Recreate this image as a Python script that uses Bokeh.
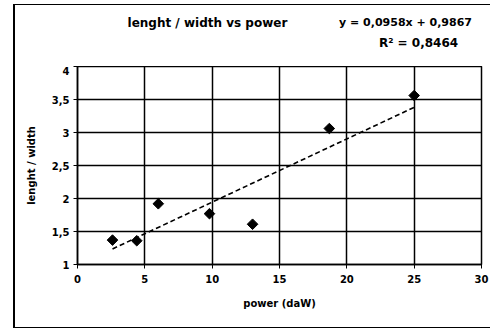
import math
from bokeh.plotting import figure
from bokeh.layouts import column
from bokeh.models import Label, CustomJSTickFormatter, FixedTicker, Range1d
from bokeh.embed import file_html
from bokeh.resources import INLINE

# data
power = [2.6, 4.4, 6.0, 9.8, 13.0, 18.7, 25.0]
ratio = [1.37, 1.36, 1.92, 1.77, 1.61, 3.06, 3.56]
slope = 0.0958
intercept = 0.9867
title_text = "lenght / width vs  power"
eq_text = "y = 0,0958x + 0,9867"
r2_text = "R² = 0,8464"
x_ticks = [0, 5, 10, 15, 20, 25, 30]
y_ticks = [1, 1.5, 2, 2.5, 3, 3.5, 4]

FONT = "DejaVu Sans"
W = 476

# header strip holding the title and the trendline equation
head = figure(width=W, height=61, output_backend="svg", toolbar_location=None,
              x_range=Range1d(0, 1), y_range=Range1d(0, 1),
              x_axis_location=None, y_axis_location=None,
              min_border=0, min_border_left=0, min_border_right=0,
              min_border_top=0, min_border_bottom=0)
head.outline_line_color = None
head.grid.visible = False
head.background_fill_color = "white"
head.border_fill_color = "white"

def hlabel(x, y, t, size):
    head.add_layout(Label(x=x, y=y, x_units="screen", y_units="screen", text=t,
                          text_font=FONT, text_font_style="bold", text_font_size=size,
                          text_align="center", text_baseline="middle", text_color="black"))

hlabel(132, 44, title_text, "12px")
hlabel(328, 44, eq_text, "11px")
hlabel(341, 24, r2_text, "12px")

p = figure(width=W, height=261, output_backend="svg", toolbar_location=None,
           x_range=Range1d(0, 30), y_range=Range1d(1, 4),
           min_border_left=62, min_border_right=10, min_border_top=0, min_border_bottom=63)
p.background_fill_color = "white"
p.border_fill_color = "white"
p.outline_line_color = "black"
p.outline_line_width = 1.5

fmt = CustomJSTickFormatter(code="return tick.toString().replace('.', ',');")
for ax, ticks in ((p.xaxis[0], x_ticks), (p.yaxis[0], y_ticks)):
    ax.ticker = FixedTicker(ticks=ticks)
    ax.formatter = fmt
    ax.axis_line_color = "black"
    ax.axis_line_width = 1.5
    ax.major_tick_in = 0
    ax.major_tick_out = 4
    ax.major_tick_line_color = "black"
    ax.minor_tick_line_color = None
    ax.major_label_text_font = FONT
    ax.major_label_text_font_style = "bold"
    ax.major_label_text_font_size = "10px"
    ax.major_label_text_color = "black"
    ax.axis_label_text_font = FONT
    ax.axis_label_text_font_style = "bold"
    ax.axis_label_text_font_size = "10px"
    ax.axis_label_text_color = "black"

p.xaxis[0].axis_label = "power (daW)"
p.yaxis[0].axis_label = "lenght / width"
p.xaxis[0].major_label_standoff = 6
p.xaxis[0].axis_label_standoff = 12
p.yaxis[0].major_label_standoff = 4
p.yaxis[0].axis_label_standoff = 12

p.xgrid[0].ticker = FixedTicker(ticks=x_ticks)
p.ygrid[0].ticker = FixedTicker(ticks=y_ticks)
for g in (p.xgrid[0], p.ygrid[0]):
    g.grid_line_color = "black"
    g.grid_line_width = 1.5
    g.grid_line_alpha = 1.0

# trend line over the data range
tx = [min(power), max(power)]
ty = [intercept + slope * v for v in tx]
p.line(tx, ty, line_color="black", line_width=1.6, line_dash="5 3")

p.scatter(power, ratio, marker="square", angle=math.pi / 4, size=7.5,
          fill_color="black", line_color="black")

layout = column(head, p, spacing=0)
layout.margin = (4, 0, 0, 13)
layout.styles = {"border-left": "2px solid black", "border-top": "1px solid black",
                 "border-bottom": "1px solid black"}

open("out.html", "w").write(file_html(layout, INLINE))
